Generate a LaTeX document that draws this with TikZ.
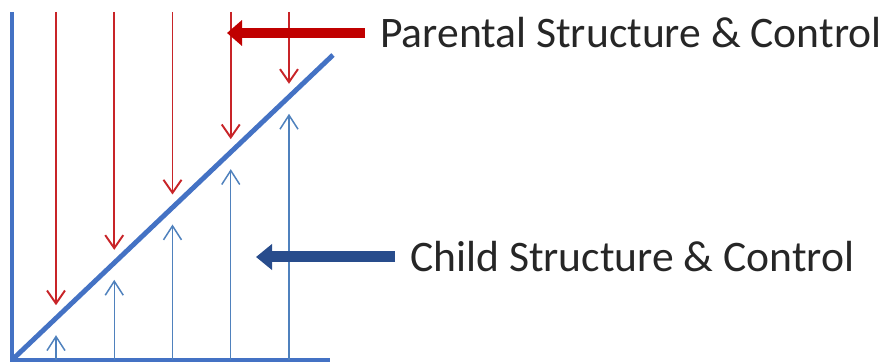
\documentclass[tikz,border=0pt]{standalone}
\usepackage{fontspec}
\setmainfont{Carlito}
\usepackage{tikz}
\usetikzlibrary{arrows.meta}

\definecolor{axisblue}{RGB}{68,114,196}
\definecolor{thinblue}{RGB}{79,129,189}
\definecolor{thinred}{RGB}{200,36,40}
\definecolor{bigred}{RGB}{192,0,0}
\definecolor{bigblue}{RGB}{40,76,140}

\tikzset{
    down/.style={draw=thinred, line width=1.1pt, -{Straight Barb[length=0.26cm, width=0.36cm]}},
    up/.style={draw=thinblue, line width=0.85pt, -{Straight Barb[length=0.28cm, width=0.36cm]}},
    label/.style={font=\fontsize{24.8}{30}\selectfont, text=black!85, anchor=west, inner sep=0.3cm, text height=16pt, text depth=0pt}
}

\begin{document}
\begin{tikzpicture}[scale=1]
    \useasboundingbox (0,0) rectangle (17.74,7.24);

    % axes
    \path[draw=axisblue, line width=2.3pt] (0.24,7.0) -- (0.24,0.04) -- (6.6,0.04);

    % parental control from above
    \path[down] (1.12,7.0) -- (1.12,1.136);
    \path[down] (2.285,7.0) -- (2.285,2.243);
    \path[down] (3.45,7.0) -- (3.45,3.35);
    \path[down] (4.615,7.0) -- (4.615,4.457);
    \path[down] (5.78,7.0) -- (5.78,5.564);

    % child control from below
    \path[up] (1.12,0.04) -- (1.12,0.536);
    \path[up] (2.285,0.04) -- (2.285,1.643);
    \path[up] (3.45,0.04) -- (3.45,2.75);
    \path[up] (4.615,0.04) -- (4.615,3.857);
    \path[up] (5.78,0.04) -- (5.78,4.964);

    % diagonal
    \path[draw=axisblue, line width=2.8pt] (0.24,0.04) -- (6.66,6.14);

    % labels
    \node[label] (parent) at (7.3,6.58) {Parental Structure \& Control};
    \node[label] (child) at (7.9,2.1) {Child Structure \& Control};

    \coordinate (ptip) at (4.54,6.58);
    \coordinate (ctip) at (5.12,2.1);

    % big arrows
    \path[draw=bigred, line width=0.2cm, -{Triangle[length=0.3cm, width=0.5cm]}] (parent.west) -- (ptip);
    \path[draw=bigblue, line width=0.22cm, -{Triangle[length=0.32cm, width=0.5cm]}] (child.west) -- (ctip);
\end{tikzpicture}
\end{document}
